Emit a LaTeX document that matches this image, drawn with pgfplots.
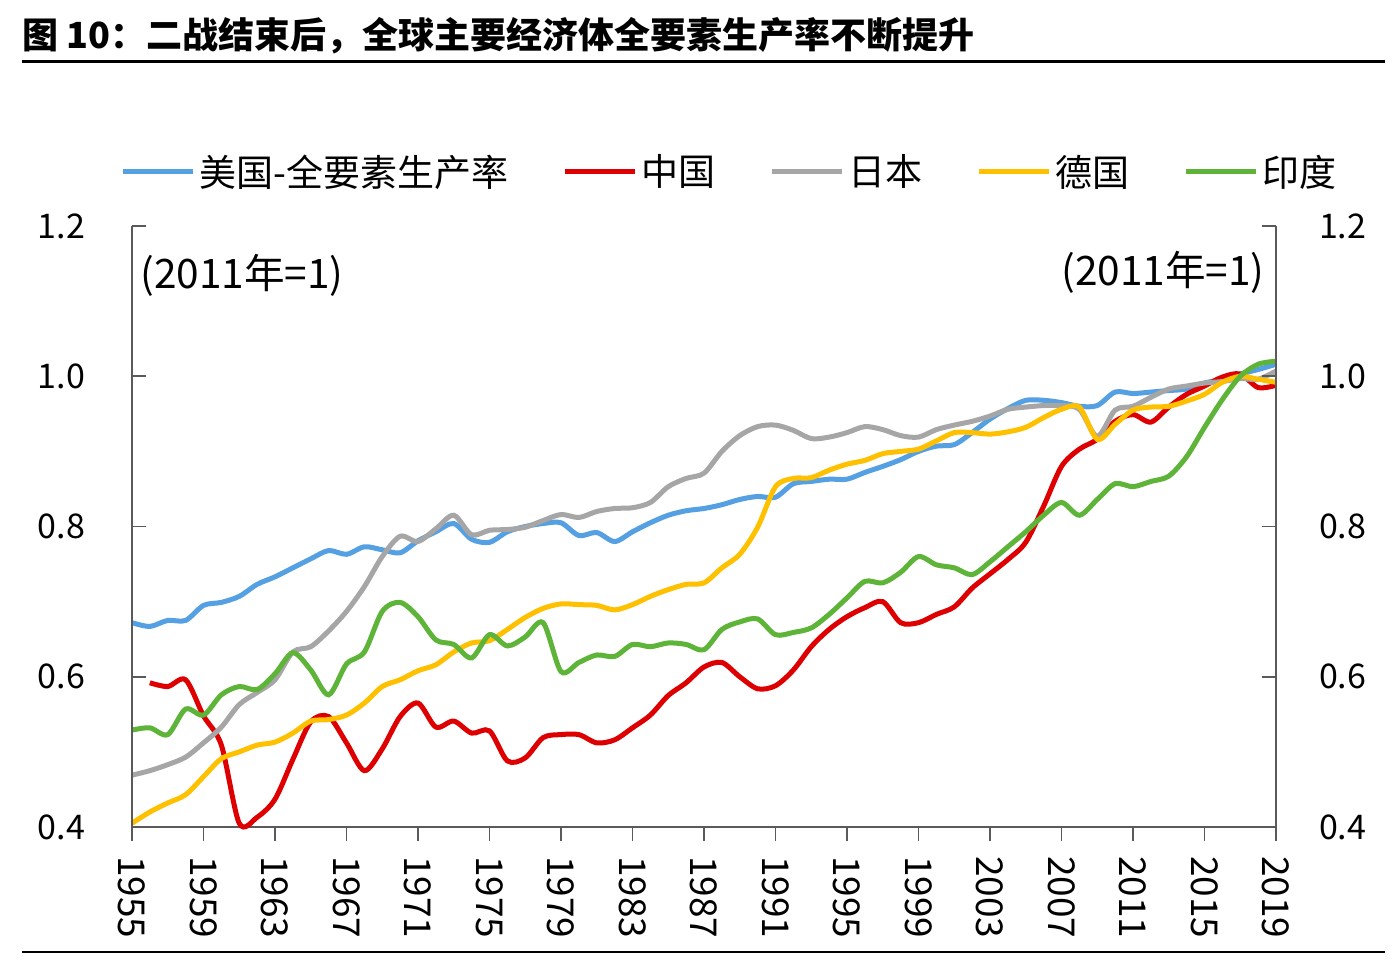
\documentclass[border=0pt]{standalone}
\usepackage{fontspec}
\setmainfont{Noto Sans CJK SC}
\usepackage{pgfplots}
\pgfplotsset{compat=1.18}
\usepackage{pgfplotstable}

\definecolor{usblue}{RGB}{84,160,226}
\definecolor{cnred}{RGB}{222,0,0}
\definecolor{jpgray}{RGB}{166,166,166}
\definecolor{deyellow}{RGB}{255,192,0}
\definecolor{ingreen}{RGB}{94,180,56}
\definecolor{axisgray}{RGB}{90,90,90}

% TFP index, 2011 = 1
\pgfplotstableread{
year us    cn    jp    de    in
1955 0.672 nan   0.469 0.405 0.529
1956 0.667 0.592 0.475 0.420 0.532
1957 0.675 0.587 0.483 0.432 0.523
1958 0.675 0.596 0.493 0.443 0.557
1959 0.695 0.548 0.512 0.467 0.549
1960 0.699 0.509 0.533 0.491 0.576
1961 0.707 0.405 0.563 0.500 0.587
1962 0.723 0.413 0.579 0.509 0.583
1963 0.733 0.437 0.596 0.513 0.604
1964 0.745 0.490 0.633 0.525 0.632
1965 0.757 0.540 0.640 0.541 0.609
1966 0.768 0.547 0.661 0.543 0.576
1967 0.763 0.512 0.687 0.549 0.617
1968 0.773 0.475 0.720 0.565 0.633
1969 0.769 0.504 0.760 0.587 0.687
1970 0.765 0.547 0.787 0.596 0.699
1971 0.781 0.565 0.780 0.608 0.680
1972 0.793 0.533 0.797 0.616 0.649
1973 0.804 0.541 0.815 0.633 0.643
1974 0.783 0.525 0.789 0.645 0.625
1975 0.779 0.528 0.795 0.648 0.656
1976 0.793 0.488 0.796 0.663 0.641
1977 0.800 0.492 0.799 0.679 0.653
1978 0.804 0.519 0.808 0.691 0.672
1979 0.805 0.523 0.816 0.697 0.607
1980 0.788 0.523 0.812 0.696 0.619
1981 0.792 0.512 0.820 0.695 0.629
1982 0.780 0.516 0.824 0.689 0.627
1983 0.793 0.532 0.825 0.696 0.643
1984 0.805 0.549 0.832 0.707 0.640
1985 0.815 0.575 0.853 0.716 0.645
1986 0.821 0.592 0.864 0.723 0.643
1987 0.824 0.613 0.871 0.725 0.636
1988 0.829 0.619 0.900 0.745 0.663
1989 0.836 0.600 0.921 0.763 0.673
1990 0.840 0.584 0.933 0.799 0.677
1991 0.839 0.588 0.935 0.853 0.656
1992 0.857 0.609 0.928 0.864 0.659
1993 0.860 0.640 0.917 0.865 0.665
1994 0.863 0.663 0.919 0.875 0.683
1995 0.863 0.680 0.925 0.883 0.705
1996 0.872 0.692 0.933 0.888 0.727
1997 0.880 0.700 0.929 0.897 0.725
1998 0.889 0.672 0.921 0.900 0.739
1999 0.900 0.672 0.919 0.903 0.760
2000 0.907 0.683 0.929 0.914 0.749
2001 0.909 0.693 0.935 0.925 0.745
2002 0.925 0.718 0.940 0.925 0.736
2003 0.943 0.737 0.947 0.923 0.753
2004 0.957 0.756 0.956 0.926 0.773
2005 0.968 0.779 0.959 0.932 0.793
2006 0.968 0.827 0.961 0.945 0.815
2007 0.965 0.880 0.961 0.956 0.832
2008 0.960 0.903 0.956 0.959 0.815
2009 0.961 0.916 0.920 0.916 0.836
2010 0.979 0.940 0.955 0.936 0.857
2011 0.977 0.949 0.960 0.955 0.853
2012 0.979 0.939 0.972 0.959 0.860
2013 0.981 0.959 0.983 0.960 0.867
2014 0.983 0.976 0.987 0.967 0.893
2015 0.991 0.987 0.991 0.976 0.932
2016 0.996 0.999 0.993 0.992 0.969
2017 1.003 1.003 0.997 1.000 1.000
2018 1.009 0.985 0.996 0.996 1.016
2019 1.016 0.988 1.007 0.992 1.020
}\tfp

\pgfplotsset{
  frame/.style={
    at={(66pt,66.5pt)}, anchor=south west,
    scale only axis, width=572pt, height=300.5pt,
    xmin=1955, xmax=2019, ymin=0.4, ymax=1.2,
    ytick={0.4,0.6,0.8,1.0,1.2},
    axis line style={draw=axisgray, line width=0.8pt},
    tick style={draw=axisgray, line width=0.8pt},
    major tick length=7pt,
    ticklabel style={font=\fontsize{17}{20}\selectfont},
    /pgf/number format/assume math mode=true,
    yticklabel style={/pgf/number format/fixed, /pgf/number format/fixed zerofill,
      /pgf/number format/precision=1},
  },
  series/.style={line width=2.5pt, smooth, no markers},
}

\begin{document}
\begin{tikzpicture}[x=1pt,y=1pt]
\useasboundingbox (0,0) rectangle (696,480);

\node[anchor=west, inner sep=0pt, font=\fontsize{18}{22}\selectfont\bfseries]
  at (11,462) {图 10：二战结束后，全球主要经济体全要素生产率不断提升};
\draw[line width=1.5pt] (11,449) -- (692.5,449);
\draw[line width=1.2pt] (11,4) -- (692.5,4);

% data and x axis
\begin{axis}[frame,
  axis x line*=bottom, axis y line=none,
  tick align=outside,
  xtick={1955,1959,...,2019},
  xticklabel shift=4pt,
  xticklabel style={rotate=-90, anchor=west, font=\fontsize{18.5}{20}\selectfont,
    /pgf/number format/1000 sep={}},
  clip=false,
  legend columns=5,
  legend cell align=left,
  legend style={at={(rel axis cs:-0.0105,1.09)}, anchor=west,
    draw=none, fill=none, inner sep=0pt,
    font=\fontsize{18.5}{22}\selectfont,
    /tikz/every even column/.append style={column sep=25pt}},
  legend image code/.code={\draw[#1] (0pt,0pt) -- (35pt,0pt);},
]
\addplot[series, usblue] table[x=year, y=us] {\tfp};
\addlegendentry{美国-全要素生产率}
\addplot[series, cnred] table[x=year, y=cn] {\tfp};
\addlegendentry{中国}
\addplot[series, jpgray] table[x=year, y=jp] {\tfp};
\addlegendentry{日本}
\addplot[series, deyellow] table[x=year, y=de] {\tfp};
\addlegendentry{德国}
\addplot[series, ingreen] table[x=year, y=in] {\tfp};
\addlegendentry{印度}
\end{axis}

% left y axis
\begin{axis}[frame,
  axis x line=none, axis y line*=left, tick align=inside,
  yticklabel style={xshift=-20pt},
]
\end{axis}

% right y axis
\begin{axis}[frame,
  axis x line=none, axis y line*=right, tick align=inside,
  yticklabel style={xshift=18pt},
]
\end{axis}

\node[anchor=west, inner sep=0pt, font=\fontsize{20.3}{24}\selectfont] at (70,342.5) {(2011年=1)};
\node[anchor=east, inner sep=0pt, font=\fontsize{20.3}{24}\selectfont] at (632.5,344) {(2011年=1)};
\end{tikzpicture}
\end{document}
